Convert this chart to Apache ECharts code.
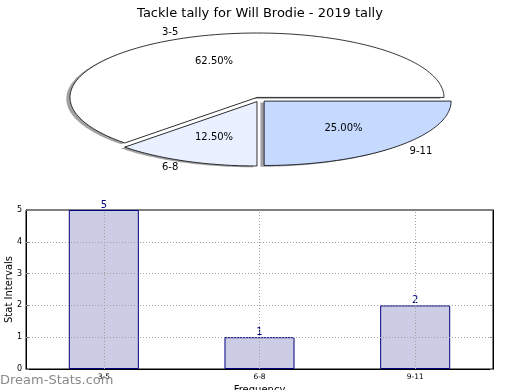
<!DOCTYPE html>
<html>
<head>
<meta charset="utf-8">
<script src="https://cdn.jsdelivr.net/npm/echarts@6/dist/echarts.min.js"></script>
<style>html,body{margin:0;padding:0;background:#fff}#c{width:520px;height:390px}</style>
</head>
<body>
<div id="c"></div>
<script>
const chartTitle = 'Tackle tally for Will Brodie - 2019 tally';
const pieLabels = ['3-5', '6-8', '9-11'];
const pieValues = [5, 1, 2];
const pieColors = ['#ffffff', '#e9f0ff', '#c6d9ff'];
const barCategories = ['3-5', '6-8', '9-11'];
const barValues = [5, 1, 2];
const yTickValues = [1, 2, 3, 4];

// pie layout (ellipse drawn by a custom series)
const PCX = 259.5, PCY = 99.5, PRX = 187, PRY = 64.4, EXPLODE = 0.035;
const SHX = -3.7, SHY = 1.3;

function pieRender(params, api) {
  const i = params.dataIndex;
  const total = pieValues.reduce((a, b) => a + b, 0);
  let before = 0;
  for (let k = 0; k < i; k++) before += pieValues[k];
  const v = api.value(1);
  const t1 = before / total * 2 * Math.PI;
  const t2 = (before + v) / total * 2 * Math.PI;
  const tm = (t1 + t2) / 2;
  const ax = PCX + EXPLODE * PRX * Math.cos(tm);
  const ay = PCY - EXPLODE * PRY * Math.sin(tm);
  const pts = [[ax, ay]];
  const n = Math.max(8, Math.ceil((t2 - t1) / 0.02));
  for (let s = 0; s <= n; s++) {
    const t = t1 + (t2 - t1) * s / n;
    pts.push([ax + PRX * Math.cos(t), ay - PRY * Math.sin(t)]);
  }
  const shadowPts = pts.map(p => [p[0] + SHX, p[1] + SHY]);
  const c = Math.cos(tm), sn = Math.sin(tm);
  const lx = ax + 1.1 * PRX * c, ly = ay - 1.1 * PRY * sn;
  const px = ax + 0.6 * PRX * c, py = ay - 0.6 * PRY * sn;
  const pct = (v / total * 100).toFixed(2) + '%';
  return {
    type: 'group',
    children: [
      { type: 'polygon', shape: { points: shadowPts }, z2: 1,
        style: { fill: 'rgba(70,70,75,0.5)', stroke: 'none' } },
      { type: 'polygon', shape: { points: pts }, z2: 2,
        style: { fill: pieColors[i], stroke: '#000', lineWidth: 0.8 } },
      { type: 'text', z2: 3, style: { x: px, y: py, text: pct, fill: '#000',
        font: '10px "DejaVu Sans"', align: 'center', verticalAlign: 'middle' } },
      { type: 'text', z2: 3, style: { x: lx, y: ly, text: pieLabels[i], fill: '#000',
        font: '10px "DejaVu Sans"', align: c < 0 ? 'right' : 'left', verticalAlign: 'middle' } }
    ]
  };
}

const chart = echarts.init(document.getElementById('c'), null, { renderer: 'canvas' });
const gridLineStyle = { color: '#a0a0a0', type: [1, 2], width: 1 };
chart.setOption({
  animation: false,
  backgroundColor: '#fff',
  textStyle: { fontFamily: 'DejaVu Sans' },
  title: {
    text: chartTitle, left: 'center', top: 2,
    textStyle: { fontSize: 13, fontWeight: 'normal', color: '#000', fontFamily: 'DejaVu Sans' }
  },
  graphic: [{
    type: 'text', left: 0, top: 374, z: 100,
    style: { text: 'Dream-Stats.com', fill: '#8a8a8a', font: '13px "DejaVu Sans"' }
  }],
  grid: { left: 26, right: 27, top: 210, bottom: 21, outerBoundsMode: 'none', containLabel: false,
    show: true, borderColor: '#000', borderWidth: 1, backgroundColor: 'transparent' },
  xAxis: {
    type: 'category', data: barCategories, boundaryGap: true,
    axisLine: { show: true, lineStyle: { color: '#000' } },
    axisTick: { show: true, alignWithLabel: true, inside: true, length: 3, lineStyle: { color: '#777' } },
    axisLabel: { fontSize: 7.5, color: '#000', margin: 4 },
    splitLine: { show: false },
    name: 'Frequency', nameLocation: 'middle', nameGap: 16, nameMoveOverlap: false,
    nameTextStyle: { fontSize: 10, color: '#000' }
  },
  yAxis: [{
    type: 'value', min: 0, max: 5, interval: 1,
    axisLine: { show: true, lineStyle: { color: '#000' } },
    axisTick: { show: true, inside: true, length: 3, lineStyle: { color: '#777' } },
    axisLabel: { fontSize: 8, color: '#000', margin: 4 },
    splitLine: { show: false },
    name: 'Stat Intervals', nameLocation: 'middle', nameGap: 12, nameMoveOverlap: false,
    nameTextStyle: { fontSize: 10, color: '#000' }
  }, {
    type: 'value', min: 0, max: 5, interval: 1, position: 'right',
    axisLine: { show: true, lineStyle: { color: '#000' } },
    axisTick: { show: true, inside: true, length: 3, lineStyle: { color: '#777' } },
    axisLabel: { show: false }, splitLine: { show: false }
  }],
  series: [{
    type: 'custom',
    coordinateSystem: 'none',
    renderItem: pieRender,
    data: pieValues.map((v, i) => [i, v]),
    silent: true
  }, {
    type: 'bar',
    data: barValues,
    barWidth: '45%',
    itemStyle: { color: '#ccccE5', borderColor: '#000080', borderWidth: 1 },
    label: { show: true, position: 'top', distance: 0, color: '#000080', fontSize: 10 },
    markLine: {
      silent: true, symbol: 'none', z: 5,
      label: { show: false },
      lineStyle: gridLineStyle,
      data: yTickValues.map(v => ({ yAxis: v })).concat(barCategories.map(c => ({ xAxis: c })))
    }
  }]
});
</script>
</body>
</html>
